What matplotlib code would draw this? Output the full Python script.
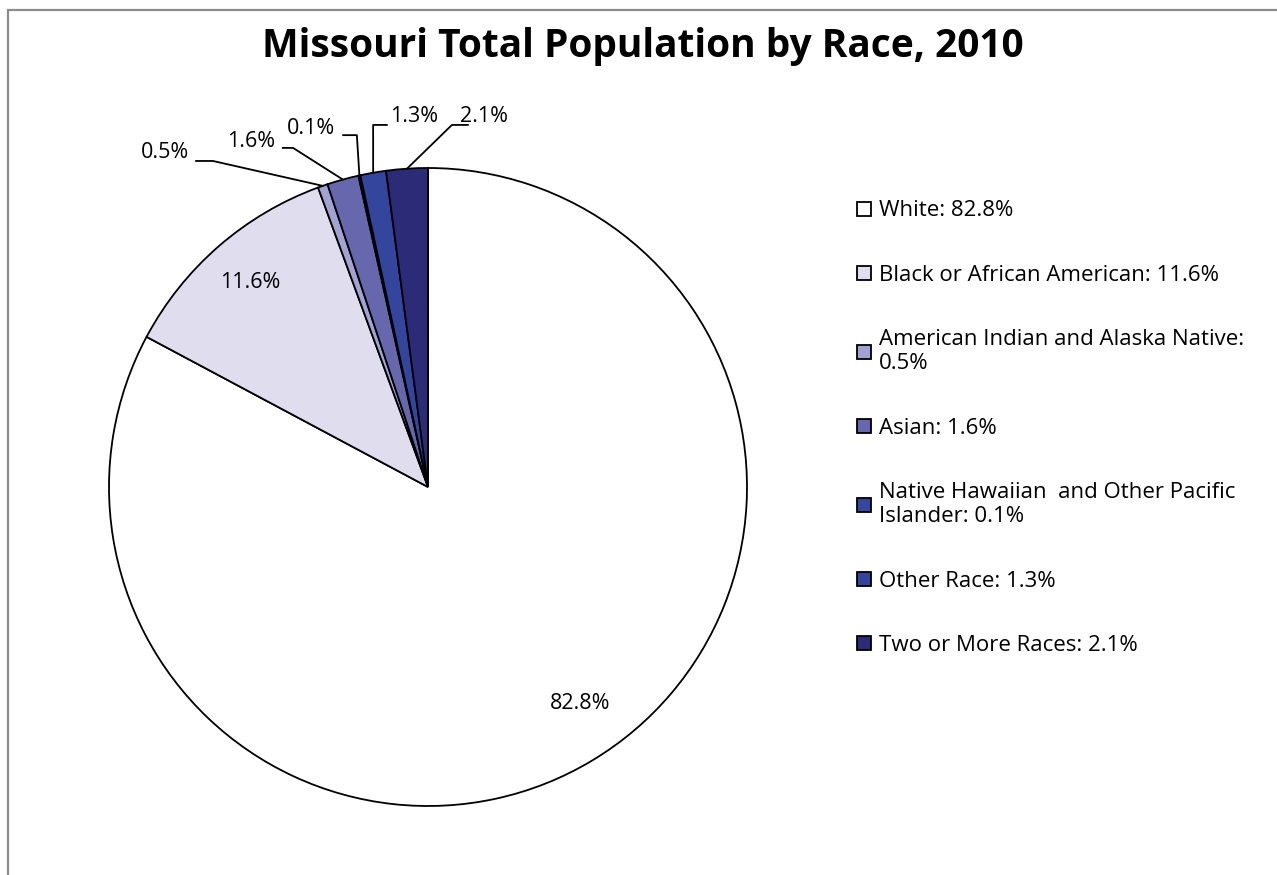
import matplotlib
matplotlib.use("Agg")
import matplotlib.pyplot as plt
from matplotlib.patches import Patch, Rectangle
import numpy as np

plt.rcParams['font.family'] = ['Open Sans', 'DejaVu Sans']

# data
races = ["White", "Black or African American", "American Indian and Alaska Native",
         "Asian", "Native Hawaiian and Other Pacific Islander", "Other Race",
         "Two or More Races"]
legend_labels = ["White: 82.8%", "Black or African American: 11.6%",
                 "American Indian and Alaska Native:\n0.5%", "Asian: 1.6%",
                 "Native Hawaiian  and Other Pacific\nIslander: 0.1%",
                 "Other Race: 1.3%", "Two or More Races: 2.1%"]
shares = [82.8, 11.6, 0.5, 1.6, 0.1, 1.3, 2.1]
colors = ["#ffffff", "#dfddee", "#a3a3d3", "#6767ad", "#3448a0", "#33459c", "#2b2b78"]

fig = plt.figure(figsize=(12.77, 8.75), dpi=100)

# outer chart border (cut off right and bottom)
fig.patches.append(Rectangle((8 / 1277, -0.05), 1.1, 1 - 10 / 875 + 0.05,
                             transform=fig.transFigure, fill=False,
                             edgecolor="#8c8c8c", lw=1.6))

ax = fig.add_axes([109 / 1277, 69 / 875, 638 / 1277, 638 / 875])
wedges, _ = ax.pie(shares, colors=colors, startangle=90, counterclock=False,
                   wedgeprops=dict(edgecolor="black", linewidth=1.3))
ax.set_xlim(-1, 1)
ax.set_ylim(-1, 1)
ax.set_aspect("equal")
ax.axis("off")

# inside labels for big slices
for w, v, r, shift in zip(wedges[:2], shares[:2], [0.83, 0.85], [4, 0]):
    mid = np.deg2rad((w.theta1 + w.theta2) / 2 + shift)
    ax.text(r * np.cos(mid), r * np.sin(mid), f"{v}%",
            ha="center", va="center", fontsize=15.5)

# outside labels with leader lines: (text pos, stub start, stub end)
outside = {
    2: ((-0.823, 1.048), (-0.727, 1.022), (-0.674, 1.022)),
    3: ((-0.555, 1.082), (-0.455, 1.063), (-0.423, 1.063)),
    4: ((-0.367, 1.125), (-0.266, 1.103), (-0.223, 1.103)),
    5: ((-0.044, 1.160), (-0.129, 1.135), (-0.172, 1.135)),
    6: ((0.176, 1.160), (0.125, 1.135), (0.075, 1.135)),
}
for i, (tpos, s0, s1) in outside.items():
    w = wedges[i]
    mid = np.deg2rad((w.theta1 + w.theta2) / 2)
    px, py = np.cos(mid), np.sin(mid)
    ax.plot([s0[0], s1[0], px], [s0[1], s1[1], py], color="black", lw=1.3,
            clip_on=False)
    ax.text(tpos[0], tpos[1], f"{shares[i]}%", ha="center", va="center",
            fontsize=15.5)

fig.text(643 / 1277, 1 - 46 / 875, "Missouri Total Population by Race, 2010",
         ha="center", va="center", fontsize=28, fontweight="bold")

handles = [Patch(facecolor=c, edgecolor="black", lw=1.3) for c in colors]
fig.legend(handles, legend_labels, loc="upper left",
           bbox_to_anchor=(853 / 1277, 1 - 196 / 875), frameon=False,
           fontsize=16, handlelength=0.6, handleheight=0.6, handletextpad=0.35,
           labelspacing=1.95, borderaxespad=0, borderpad=0.2)

plt.savefig("out.png", dpi=100)
